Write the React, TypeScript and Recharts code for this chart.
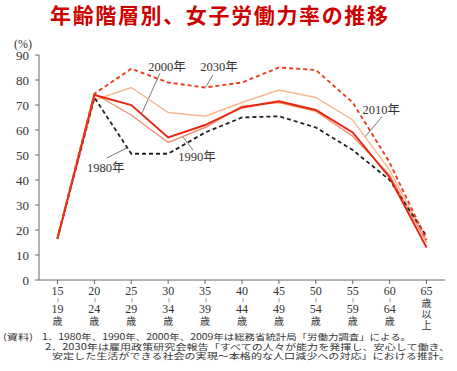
import React from 'react'
import {
  LineChart, Line, XAxis, YAxis, ReferenceLine, ReferenceDot,
} from 'recharts'

const AGES = ['15', '20', '25', '30', '35', '40', '45', '50', '55', '60', '65']
const AGES_TO = ['19', '24', '29', '34', '39', '44', '49', '54', '59', '64', '']

const Y1980 = [16.5, 73, 50.5, 50.5, 59, 65, 65.5, 61, 52, 40, 17.5]
const Y1990 = [16.5, 74.5, 66, 55, 61, 69.5, 71, 67.5, 57.5, 42, 15]
const Y2000 = [16.5, 74, 70, 57, 62, 69, 71.5, 68, 59, 41, 13]
const Y2010 = [16.5, 72, 77, 67, 65.5, 71, 76, 73, 64, 44, 16]
const Y2030 = [17, 74.5, 84.5, 79, 77, 79, 85, 84, 71, 47, 16]

const Y_TICKS = [0, 10, 20, 30, 40, 50, 60, 70, 80, 90]

// series label placement, in data units (x = age-group index)
const NOTES = [
  { text: '2000年', at: [2.97, 85.2], from: [2.78, 82.8], to: [2.29, 66.8] },
  { text: '2030年', at: [4.38, 85.2], from: [4.21, 82], to: [4.02, 77.2] },
  { text: '1980年', at: [1.31, 44.8], from: [1.34, 48.8], to: [1.88, 52.8] },
  { text: '1990年', at: [3.78, 49.2], from: [3.67, 52], to: [3.4, 57.2] },
  { text: '2010年', at: [8.77, 68], from: [8.79, 65.2], to: [8.33, 57.2] },
]

const FOOT = [
  '1．1980年、1990年、2000年、2009年は総務省統計局「労働力調査」による。',
  '2．2030年は雇用政策研究会報告「すべての人々が能力を発揮し、安心して働き、',
  '安定した生活ができる社会の実現～本格的な人口減少への対応」における推計。',
]

const data = AGES.map((a, i) => ({
  i,
  y1980: Y1980[i],
  y1990: Y1990[i],
  y2000: Y2000[i],
  y2010: Y2010[i],
  y2030: Y2030[i],
}))

const SERIF = '"Liberation Serif", "Noto Sans CJK JP", serif'
const CJK = '"Noto Sans CJK JP", sans-serif'
const AXIS = '#666'

function AgeTick(props: any) {
  const { x, y, payload } = props
  const i = payload.value as number
  const last = i === AGES.length - 1
  return (
    <g transform={`translate(${x},${y})`} fill="#333">
      <text y={11} textAnchor="middle" fontSize={12} fontFamily={SERIF}>{AGES[i]}</text>
      {last ? (
        <>
          <text y={23} textAnchor="middle" fontSize={10} fontFamily={CJK}>歳</text>
          <text y={34} textAnchor="middle" fontSize={10} fontFamily={CJK}>以</text>
          <text y={45} textAnchor="middle" fontSize={10} fontFamily={CJK}>上</text>
        </>
      ) : (
        <>
          <text transform="translate(0,16.5) rotate(90)" textAnchor="middle" dominantBaseline="central"
            fontSize={8} fontFamily={SERIF}>~</text>
          <text y={29} textAnchor="middle" fontSize={12} fontFamily={SERIF}>{AGES_TO[i]}</text>
          <text y={41} textAnchor="middle" fontSize={10} fontFamily={CJK}>歳</text>
        </>
      )}
    </g>
  )
}

export default function App() {
  return (
    <div style={{ position: 'absolute', left: 0, top: 0, width: 457, height: 371, background: '#fff' }}>
      <LineChart
        width={457}
        height={371}
        data={data}
        margin={{ top: 55, right: 12, left: 9, bottom: 41 }}
      >
        <XAxis
          dataKey="i"
          type="number"
          domain={[-0.5, 10.5]}
          ticks={data.map(d => d.i)}
          tick={<AgeTick />}
          tickSize={4}
          tickMargin={0}
          height={50}
          stroke={AXIS}
          interval={0}
        />
        <YAxis
          domain={[0, 90]}
          ticks={Y_TICKS}
          width={30}
          tickSize={4}
          tickMargin={6}
          stroke={AXIS}
          tick={{ fontSize: 13, fontFamily: SERIF, fill: '#333' }}
        />
        {NOTES.map(n => (
          <ReferenceLine
            key={n.text + '-l'}
            segment={[{ x: n.from[0], y: n.from[1] }, { x: n.to[0], y: n.to[1] }]}
            stroke="#555"
            strokeWidth={0.8}
            ifOverflow="visible"
          />
        ))}
        <Line dataKey="y2010" stroke="#f6b890" strokeWidth={1.4} dot={false} isAnimationActive={false} />
        <Line dataKey="y1990" stroke="#f0906a" strokeWidth={1.4} dot={false} isAnimationActive={false} />
        <Line dataKey="y1980" stroke="#222" strokeWidth={1.8} strokeDasharray="4 3" dot={false} isAnimationActive={false} />
        <Line dataKey="y2000" stroke="#e8250e" strokeWidth={1.9} dot={false} isAnimationActive={false} />
        <Line dataKey="y2030" stroke="#ec3d1c" strokeWidth={1.9} strokeDasharray="4 3" dot={false} isAnimationActive={false} />
        {NOTES.map(n => (
          <ReferenceDot
            key={n.text}
            x={n.at[0]}
            y={n.at[1]}
            r={0}
            fill="none"
            stroke="none"
            ifOverflow="visible"
            label={{ value: n.text, position: 'center', fontSize: 12.5, fontFamily: SERIF, fill: '#333' }}
          />
        ))}
      </LineChart>
      <svg width={457} height={371} style={{ position: 'absolute', left: 0, top: 0, pointerEvents: 'none' }}>
        <text x={50} y={23} fontSize={21} fontWeight="bold" fontFamily={CJK} fill="#cc0000"
          textLength={338} lengthAdjust="spacing">年齢階層別、女子労働力率の推移</text>
        <text x={14} y={48} fontSize={12} fontFamily={SERIF} fill="#333">(%)</text>
        <text x={3} y={340} fontSize={8.5} fontFamily={CJK} fill="#333" textLength={30} lengthAdjust="spacingAndGlyphs">(資料)</text>
        <text x={42} y={340} fontSize={8.5} fontFamily={CJK} fill="#333" textLength={369} lengthAdjust="spacingAndGlyphs">{FOOT[0]}</text>
        <text x={45} y={349.5} fontSize={8.5} fontFamily={CJK} fill="#333" textLength={405} lengthAdjust="spacingAndGlyphs">{FOOT[1]}</text>
        <text x={52} y={359} fontSize={8.5} fontFamily={CJK} fill="#333" textLength={398} lengthAdjust="spacingAndGlyphs">{FOOT[2]}</text>
      </svg>
    </div>
  )
}
